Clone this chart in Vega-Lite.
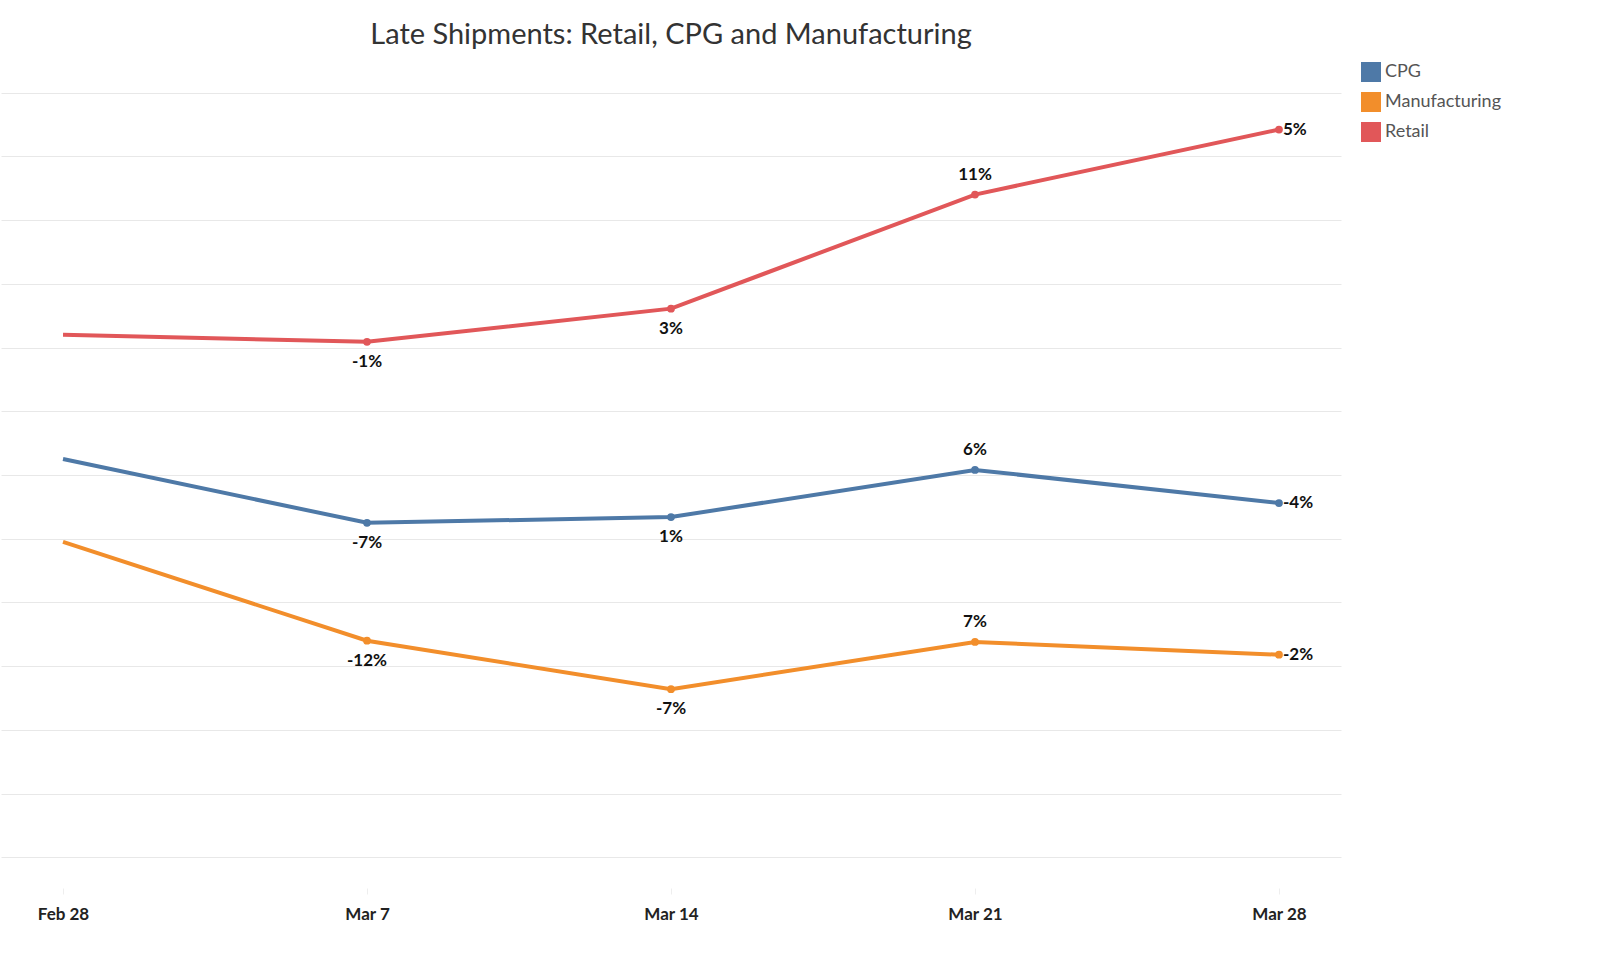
{
  "$schema": "https://vega.github.io/schema/vega-lite/v6.json",
  "autosize": "none",
  "padding": {"left": 1, "top": 62, "right": 259, "bottom": 65},
  "width": 1340,
  "height": 826,
  "title": {"text": "Late Shipments: Retail, CPG and Manufacturing", "fontSize": 29, "font": "Lato", "fontWeight": "normal", "color": "#333333", "anchor": "middle", "offset": 12},
  "config": {"view": {"stroke": null}, "font": "Lato"},
  "data": {"values": [
    {"week": "Feb 28", "series": "Retail", "value": 9.2, "label": ""},
    {"week": "Mar 7", "series": "Retail", "value": 9.09, "label": "-1%"},
    {"week": "Mar 14", "series": "Retail", "value": 9.61, "label": "3%"},
    {"week": "Mar 21", "series": "Retail", "value": 11.4, "label": "11%"},
    {"week": "Mar 28", "series": "Retail", "value": 12.42, "label": "5%"},
    {"week": "Feb 28", "series": "CPG", "value": 7.25, "label": ""},
    {"week": "Mar 7", "series": "CPG", "value": 6.25, "label": "-7%"},
    {"week": "Mar 14", "series": "CPG", "value": 6.34, "label": "1%"},
    {"week": "Mar 21", "series": "CPG", "value": 7.08, "label": "6%"},
    {"week": "Mar 28", "series": "CPG", "value": 6.56, "label": "-4%"},
    {"week": "Feb 28", "series": "Manufacturing", "value": 5.95, "label": ""},
    {"week": "Mar 7", "series": "Manufacturing", "value": 4.40, "label": "-12%"},
    {"week": "Mar 14", "series": "Manufacturing", "value": 3.64, "label": "-7%"},
    {"week": "Mar 21", "series": "Manufacturing", "value": 4.38, "label": "7%"},
    {"week": "Mar 28", "series": "Manufacturing", "value": 4.18, "label": "-2%"}
  ]},
  "encoding": {
    "x": {"field": "week", "type": "ordinal", "sort": ["Feb 28", "Mar 7", "Mar 14", "Mar 21", "Mar 28"],
      "scale": {"type": "point", "padding": 0.204},
      "axis": {"title": null, "labelAngle": 0, "labelFontWeight": "bold", "labelFontSize": 17, "labelColor": "#222", "domain": false, "tickColor": "#eeeeee", "tickSize": 6, "labelPadding": 12, "grid": false}},
    "y": {"field": "value", "type": "quantitative",
      "scale": {"domain": [0.52, 13.48], "nice": false, "zero": false},
      "axis": {"title": null, "labels": false, "ticks": false, "domain": false, "values": [1,2,3,4,5,6,7,8,9,10,11,12,13], "gridColor": "#e8e8e8"}}
  },
  "layer": [
    {"mark": {"type": "line", "strokeWidth": 4},
      "encoding": {"color": {"field": "series", "type": "nominal",
        "scale": {"domain": ["CPG", "Manufacturing", "Retail"], "range": ["#4e79a7", "#f28e2b", "#e15759"]},
        "legend": {"title": null, "orient": "right", "offset": 20, "symbolType": "square", "symbolSize": 400, "symbolStrokeWidth": 0, "symbolOpacity": 1, "labelFontSize": 18, "labelColor": "#555", "rowPadding": 10}}}},
    {"mark": {"type": "circle", "size": 60, "opacity": 1},
      "transform": [{"filter": "datum.week !== 'Feb 28'"}],
      "encoding": {"color": {"field": "series", "type": "nominal", "legend": null}}},
    {"mark": {"type": "text", "fontSize": 17, "fontWeight": "bold", "color": "#111", "dy": 20},
      "transform": [{"filter": "datum.week === 'Mar 7' || datum.week === 'Mar 14'"}],
      "encoding": {"text": {"field": "label"}}},
    {"mark": {"type": "text", "fontSize": 17, "fontWeight": "bold", "color": "#111", "dy": -20},
      "transform": [{"filter": "datum.week === 'Mar 21'"}],
      "encoding": {"text": {"field": "label"}}},
    {"mark": {"type": "text", "fontSize": 17, "fontWeight": "bold", "color": "#111", "align": "left", "dx": 4},
      "transform": [{"filter": "datum.week === 'Mar 28'"}],
      "encoding": {"text": {"field": "label"}}}
  ]
}
